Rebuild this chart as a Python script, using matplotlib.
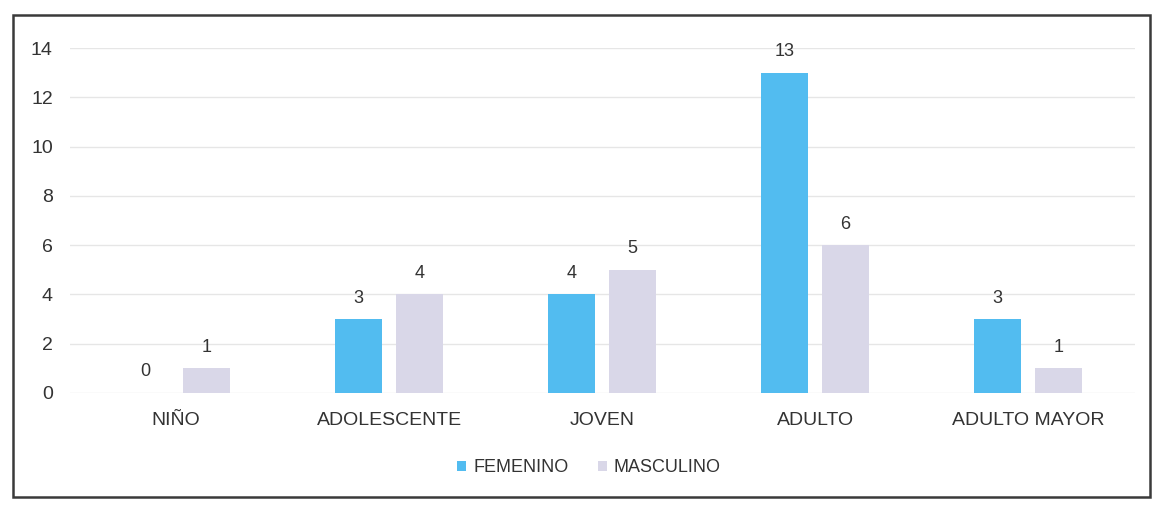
import numpy as np
import matplotlib
matplotlib.use("Agg")
from matplotlib import pyplot as plt
from matplotlib.patches import Rectangle

# data
categorias = ["NIÑO", "ADOLESCENTE", "JOVEN", "ADULTO", "ADULTO MAYOR"]
femenino = [0, 3, 4, 13, 3]
masculino = [1, 4, 5, 6, 1]
serie_nombres = ["FEMENINO", "MASCULINO"]
y_ticks = [0, 2, 4, 6, 8, 10, 12, 14]

col_fem = "#52bcf0"
col_mas = "#d9d7e8"
txt_col = "#333333"
plt.rcParams["font.family"] = ["Liberation Sans", "DejaVu Sans"]

fig = plt.figure(figsize=(11.55, 5.07), dpi=100)
ax = fig.add_axes([0.0602, 0.2249, 0.9221, 0.6804])

x = np.arange(len(categorias))
w = 0.22
off = 0.143
b1 = ax.bar(x - off, femenino, w, color=col_fem, label=serie_nombres[0], zorder=3)
b2 = ax.bar(x + off, masculino, w, color=col_mas, label=serie_nombres[1], zorder=3)

for bars, vals in [(b1, femenino), (b2, masculino)]:
    for b, v in zip(bars, vals):
        ax.annotate(str(v), (b.get_x() + b.get_width() / 2, v),
                    xytext=(0, 9), textcoords="offset points",
                    ha="center", va="bottom", fontsize=13, color=txt_col)

ax.set_xlim(-0.5, len(categorias) - 0.5)
ax.set_ylim(0, 14)
ax.set_yticks(y_ticks)
ax.set_xticks(x)
ax.set_xticklabels(categorias)
ax.tick_params(axis="both", length=0, labelsize=14, colors=txt_col)
ax.tick_params(axis="y", pad=12)
ax.tick_params(axis="x", pad=14)
ax.grid(axis="y", color="#e6e6e6", linewidth=1, zorder=0)
for s in ax.spines.values():
    s.set_visible(False)

leg = fig.legend(loc="center", bbox_to_anchor=(0.51, 0.077), ncol=2, frameon=False,
                 fontsize=13, handlelength=0.5, handleheight=0.5,
                 handletextpad=0.4, columnspacing=1.6)
for t in leg.get_texts():
    t.set_color(txt_col)

# scanned border around the chart
fig.patches.append(Rectangle((0.011, 0.02), 0.985, 0.95, transform=fig.transFigure,
                             fill=False, edgecolor="#3a3a3a", linewidth=1.8))

fig.savefig("out.png", dpi=100)
